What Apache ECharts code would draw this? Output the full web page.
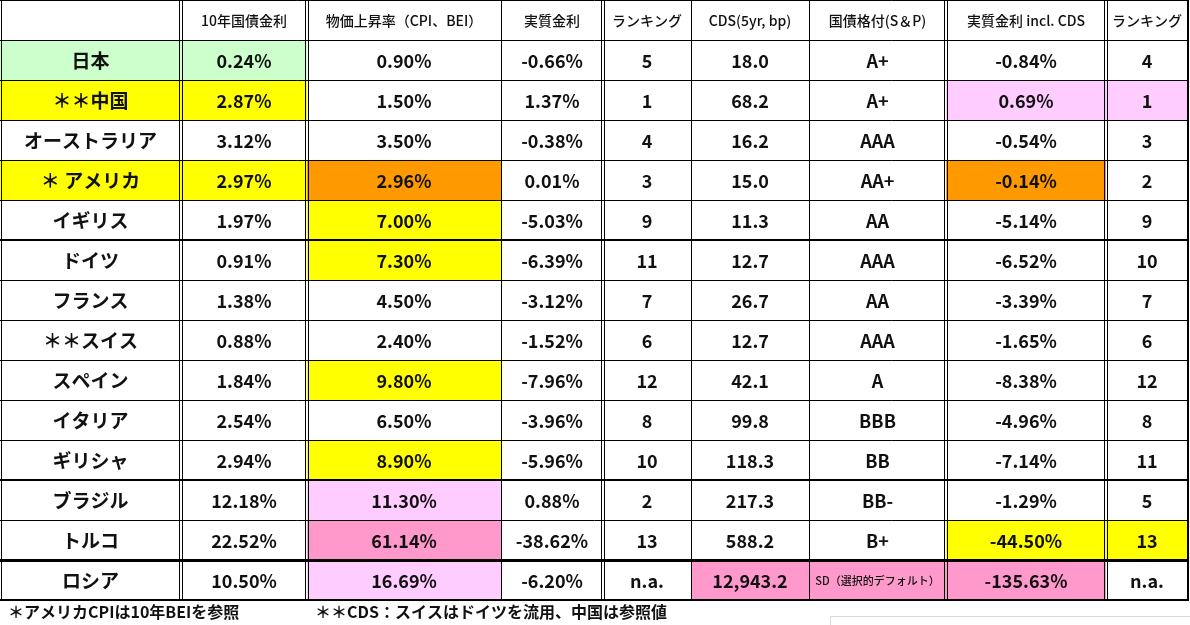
<!DOCTYPE html>
<html><head><meta charset="utf-8">
<script src="https://cdn.jsdelivr.net/npm/echarts@6/dist/echarts.min.js"></script>
<style>html,body{margin:0;padding:0;background:#fff}#c{width:1190px;height:625px}</style>
</head><body><div id="c"></div>
<script>
// ---- data ----
const headers = ['', '10年国債金利', '物価上昇率（CPI、BEI）', '実質金利', 'ランキング', 'CDS(5yr, bp)', '国債格付(S＆P)', '実質金利 incl. CDS', 'ランキング'];
const countries = ['日本', '＊＊中国', 'オーストラリア', '＊ アメリカ', 'イギリス', 'ドイツ', 'フランス', '＊＊スイス', 'スペイン', 'イタリア', 'ギリシャ', 'ブラジル', 'トルコ', 'ロシア'];
const yield10 = [0.24, 2.87, 3.12, 2.97, 1.97, 0.91, 1.38, 0.88, 1.84, 2.54, 2.94, 12.18, 22.52, 10.50];
const inflation = [0.90, 1.50, 3.50, 2.96, 7.00, 7.30, 4.50, 2.40, 9.80, 6.50, 8.90, 11.30, 61.14, 16.69];
const realRate = [-0.66, 1.37, -0.38, 0.01, -5.03, -6.39, -3.12, -1.52, -7.96, -3.96, -5.96, 0.88, -38.62, -6.20];
const ranking1 = [5, 1, 4, 3, 9, 11, 7, 6, 12, 8, 10, 2, 13, 'n.a.'];
const cds = [18.0, 68.2, 16.2, 15.0, 11.3, 12.7, 26.7, 12.7, 42.1, 99.8, 118.3, 217.3, 588.2, 12943.2];
const rating = ['A+', 'A+', 'AAA', 'AA+', 'AA', 'AAA', 'AA', 'AAA', 'A', 'BBB', 'BB', 'BB-', 'B+', 'SD（選択的デフォルト）'];
const realRateCds = [-0.84, 0.69, -0.54, -0.14, -5.14, -6.52, -3.39, -1.65, -8.38, -4.96, -7.14, -1.29, -44.50, -135.63];
const ranking2 = [4, 1, 3, 2, 9, 10, 7, 6, 12, 8, 11, 5, 13, 'n.a.'];
const notes = ['＊アメリカCPIは10年BEIを参照', '＊＊CDS：スイスはドイツを流用、中国は参照値'];

// ---- layout / style ----
const colEdges = [0, 181, 307, 501, 603, 691, 809, 946, 1106, 1188];
const vRules = ['single', 'double', 'double', 'single', 'double', 'single', 'single', 'double', 'double', 'thick'];
const hRuleWidth = {6: 2, 12: 2, 14: 3, 15: 2};
const G = '#CCFFCC', Y = '#FFFF00', O = '#FF9900', LP = '#FFCCFF', P = '#FF99CC';
const fills = {
  '1,0': G, '1,1': G,
  '2,0': Y, '2,1': Y, '2,7': LP, '2,8': LP,
  '4,0': Y, '4,1': Y, '4,2': O, '4,7': O,
  '5,2': Y, '6,2': Y, '9,2': Y, '11,2': Y,
  '12,2': LP,
  '13,2': P, '13,7': Y, '13,8': Y,
  '14,2': LP, '14,5': P, '14,6': P, '14,7': P
};
const FF = '"Noto Sans CJK JP", "Noto Sans", sans-serif';

const pct = v => v.toFixed(2) + '%';
const num = v => v.toLocaleString('en-US', {minimumFractionDigits: 1, maximumFractionDigits: 1});

const cells = [];
headers.forEach((h, c) => cells.push({c, r: 0, text: h, font: '500 14px ' + FF}));
countries.forEach((name, i) => {
  const r = i + 1;
  const vals = [name, pct(yield10[i]), pct(inflation[i]), pct(realRate[i]), String(ranking1[i]),
    num(cds[i]), rating[i], pct(realRateCds[i]), String(ranking2[i])];
  vals.forEach((t, c) => {
    let font = 'bold 18px ' + FF;
    if (c === 0) font = 'bold 19px ' + FF;
    if (c === 6 && t.length > 4) font = '500 11px ' + FF;
    cells.push({c, r, text: t, font});
  });
});
cells.forEach(cl => cl.fill = fills[cl.r + ',' + cl.c] || '#FFFFFF');

const rules = [];
for (let e = 0; e <= 15; e++) rules.push({dir: 'h', at: e, w: hRuleWidth[e] || 1});
colEdges.forEach((x, i) => rules.push({dir: 'v', at: i, kind: vRules[i]}));

const chart = echarts.init(document.getElementById('c'));
chart.setOption({
  animation: false,
  grid: {left: 0, top: 0, width: 1188, height: 600, containLabel: false},
  xAxis: {type: 'value', min: 0, max: 1188, show: false},
  yAxis: {type: 'value', min: 0, max: 15, inverse: true, show: false},
  title: [
    {text: notes[0], left: 3, top: 599, textStyle: {fontFamily: FF, fontSize: 16, fontWeight: 'bold', color: '#111'}},
    {text: notes[1], left: 310, top: 599, textStyle: {fontFamily: FF, fontSize: 16, fontWeight: 'bold', color: '#111'}}
  ],
  graphic: [{type: 'rect', shape: {x: 830.5, y: 616.5, width: 400, height: 40}, style: {fill: '#fff', stroke: '#d9d9d9', lineWidth: 1}}],
  series: [
    {
      type: 'custom', clip: false, z: 2,
      data: cells.map(cl => [cl.c, cl.r]),
      renderItem: (params, api) => {
        const cl = cells[params.dataIndex];
        const p0 = api.coord([colEdges[cl.c], cl.r]);
        const p1 = api.coord([colEdges[cl.c + 1], cl.r + 1]);
        return {type: 'group', children: [
          {type: 'rect', shape: {x: p0[0], y: p0[1], width: p1[0] - p0[0], height: p1[1] - p0[1]}, style: {fill: cl.fill}},
          {type: 'text', style: {text: cl.text, x: (p0[0] + p1[0]) / 2, y: (p0[1] + p1[1]) / 2 + 1,
            align: 'center', verticalAlign: 'middle', font: cl.font, fill: '#111'}}
        ]};
      }
    },
    {
      type: 'custom', clip: false, z: 3,
      data: rules.map((r, i) => [i]),
      renderItem: (params, api) => {
        const ru = rules[params.dataIndex];
        const st = w => ({stroke: '#000', lineWidth: w});
        if (ru.dir === 'h') {
          const a = api.coord([0, ru.at]), b = api.coord([1188, ru.at]);
          let y = Math.round(a[1]);
          if (ru.w % 2 === 1) y += 0.5;
          if (ru.at === 0) y = 0.5;
          return {type: 'line', shape: {x1: a[0], y1: y, x2: b[0] + 1, y2: y}, style: st(ru.w)};
        }
        const a = api.coord([colEdges[ru.at], 0]), b = api.coord([colEdges[ru.at], 15]);
        let x = Math.round(a[0]);
        if (ru.kind === 'double') {
          return {type: 'group', children: [
            {type: 'line', shape: {x1: x - 1.5, y1: a[1], x2: x - 1.5, y2: b[1]}, style: st(1)},
            {type: 'line', shape: {x1: x + 1.5, y1: a[1], x2: x + 1.5, y2: b[1]}, style: st(1)}
          ]};
        }
        if (ru.kind === 'thick') {
          return {type: 'line', shape: {x1: x, y1: a[1], x2: x, y2: b[1] + 1}, style: st(2)};
        }
        if (ru.at === 0) x = 1;
        return {type: 'line', shape: {x1: x + 0.5, y1: a[1], x2: x + 0.5, y2: b[1]}, style: st(1)};
      }
    }
  ]
});
</script></body></html>
